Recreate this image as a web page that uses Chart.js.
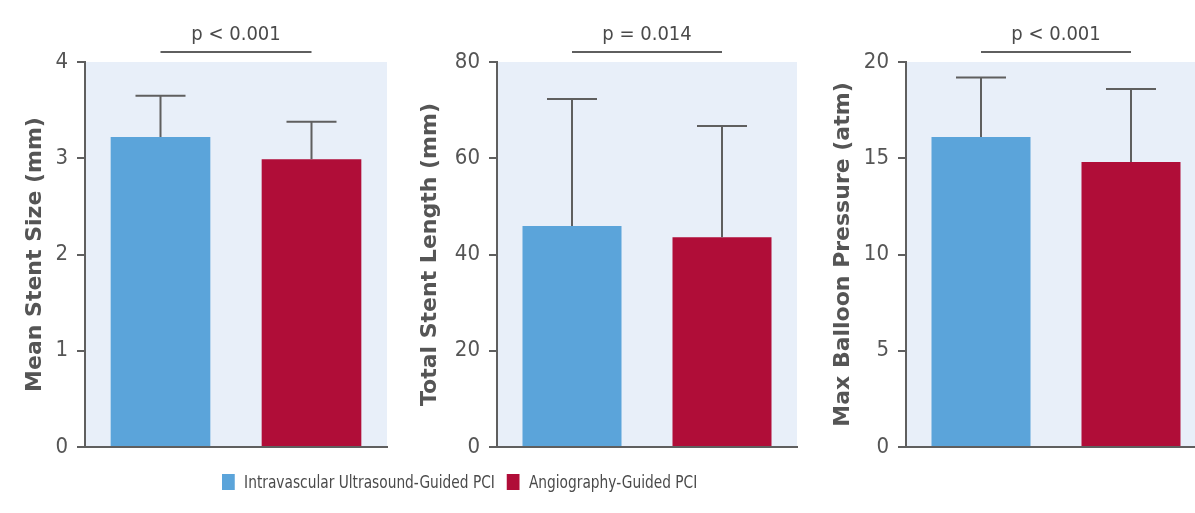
<!DOCTYPE html>
<html>
<head>
<meta charset="utf-8">
<script src="https://cdn.jsdelivr.net/npm/chart.js@4.4.1/dist/chart.umd.min.js"></script>
<style>
  html, body { margin: 0; padding: 0; background: #ffffff; }
  body { width: 1195px; height: 513px; position: relative; overflow: hidden; }
  canvas { position: absolute; top: 0; }
  #legend { position: absolute; left: 222px; top: 471px; height: 24px;
            font-family: 'DejaVu Sans Condensed', sans-serif;
            font-size: 18px; color: #4a4a4a; white-space: nowrap;
            transform: scaleX(0.85); transform-origin: 0 50%; }
  #legend span.sw { display: inline-block; width: 15px; height: 16px; vertical-align: -2px; margin-right: 11px; }
  #legend span.lab { margin-right: 14px; }
</style>
</head>
<body>
<canvas id="c1" width="395" height="513" style="left:0px"></canvas>
<canvas id="c2" width="400" height="513" style="left:400px"></canvas>
<canvas id="c3" width="410" height="513" style="left:800px"></canvas>
<div id="legend"></div>
<script>
// Groups compared in every panel
const groups = ['Intravascular Ultrasound-Guided PCI', 'Angiography-Guided PCI'];
const groupColors = ['#5ba4da', '#b00d38'];

// Mean stent size (mm): mean and SD
const stentSizeMean = [3.22, 2.99];
const stentSizeSD = [0.43, 0.39];

// Total stent length (mm): mean and SD
const stentLengthMean = [45.9, 43.6];
const stentLengthSD = [26.4, 23.1];

// Max balloon pressure (atm): mean and SD
const balloonMean = [16.1, 14.8];
const balloonSD = [3.1, 3.8];

// Axis titles, ranges and p-values per panel
const axisTitles = ['Mean Stent Size (mm)', 'Total Stent Length (mm)', 'Max Balloon Pressure (atm)'];
const axisMax = [4, 80, 20];
const axisStep = [1, 20, 5];
const pValues = ['p < 0.001', 'p = 0.014', 'p < 0.001'];

const axisColor = '#5f5f5f';
const textColor = '#555555';
const condensed = "'DejaVu Sans Condensed', sans-serif";

// Light plot-area fill
const plotFill = {
  id: 'plotFill',
  beforeDraw(chart) {
    const a = chart.chartArea, ctx = chart.ctx;
    ctx.save();
    ctx.fillStyle = '#e8eff9';
    ctx.fillRect(a.left, a.top, a.right - a.left, a.bottom - a.top);
    ctx.restore();
  }
};

// Upper SD whiskers with a cap
const sdWhiskers = {
  id: 'sdWhiskers',
  afterDatasetsDraw(chart) {
    const ctx = chart.ctx, y = chart.scales.y;
    const meta = chart.getDatasetMeta(0);
    const ds = chart.data.datasets[0];
    ctx.save();
    ctx.strokeStyle = axisColor;
    ctx.lineWidth = 2;
    meta.data.forEach((bar, i) => {
      const top = y.getPixelForValue(ds.data[i] + ds.sd[i]);
      ctx.beginPath();
      ctx.moveTo(bar.x, bar.y);
      ctx.lineTo(bar.x, top);
      ctx.moveTo(bar.x - 25, top);
      ctx.lineTo(bar.x + 25, top);
      ctx.stroke();
    });
    ctx.restore();
  }
};

// Bracket with the p-value above the two bars
const pBracket = {
  id: 'pBracket',
  afterDraw(chart, args, opts) {
    const ctx = chart.ctx;
    const bars = chart.getDatasetMeta(0).data;
    const x0 = bars[0].x, x1 = bars[1].x;
    const yLine = chart.chartArea.top - 10;
    ctx.save();
    ctx.strokeStyle = axisColor;
    ctx.lineWidth = 2;
    ctx.beginPath();
    ctx.moveTo(x0, yLine);
    ctx.lineTo(x1, yLine);
    ctx.stroke();
    ctx.fillStyle = '#4a4a4a';
    ctx.font = '20px ' + condensed;
    ctx.textAlign = 'center';
    ctx.textBaseline = 'alphabetic';
    ctx.fillText(opts.text, (x0 + x1) / 2, yLine - 12);
    ctx.restore();
  }
};

function makePanel(id, means, sds, idx, yWidth, titlePad, rightPad) {
  return new Chart(document.getElementById(id), {
    type: 'bar',
    data: {
      labels: groups,
      datasets: [{
        data: means,
        sd: sds,
        backgroundColor: groupColors,
        borderWidth: 0,
        barPercentage: 0.66,
        categoryPercentage: 1.0
      }]
    },
    options: {
      responsive: false,
      devicePixelRatio: 1,
      animation: false,
      layout: { padding: { left: 0, right: rightPad, top: 62, bottom: 66 } },
      plugins: {
        legend: { display: false },
        tooltip: { enabled: false },
        pBracket: { text: pValues[idx] }
      },
      scales: {
        x: {
          grid: { display: false, drawTicks: false },
          ticks: { display: false },
          border: { display: true, color: axisColor, width: 2 },
          afterFit(s) { s.height = 0; }
        },
        y: {
          min: 0,
          max: axisMax[idx],
          ticks: {
            stepSize: axisStep[idx],
            color: textColor,
            font: { family: condensed, size: 22 },
            padding: 9
          },
          grid: { drawOnChartArea: false, drawTicks: true, tickLength: 8, color: axisColor, lineWidth: 2 },
          border: { display: true, color: axisColor, width: 2 },
          title: {
            display: true,
            text: axisTitles[idx],
            color: textColor,
            font: { family: "'DejaVu Sans', sans-serif", size: 22, weight: 'bold' },
            padding: { top: titlePad, bottom: 0 }
          },
          afterFit(s) { s.width = yWidth; }
        }
      }
    },
    plugins: [plotFill, sdWhiskers, pBracket]
  });
}

makePanel('c1', stentSizeMean, stentSizeSD, 0, 85, 22, 8);
makePanel('c2', stentLengthMean, stentLengthSD, 1, 97, 17, 3);
makePanel('c3', balloonMean, balloonSD, 2, 106, 30, 4);

// Shared legend below the panels
const legend = document.getElementById('legend');
groups.forEach((g, i) => {
  const sw = document.createElement('span');
  sw.className = 'sw';
  sw.style.background = groupColors[i];
  const lab = document.createElement('span');
  lab.className = 'lab';
  lab.textContent = g;
  legend.appendChild(sw);
  legend.appendChild(lab);
});
</script>
</body>
</html>
